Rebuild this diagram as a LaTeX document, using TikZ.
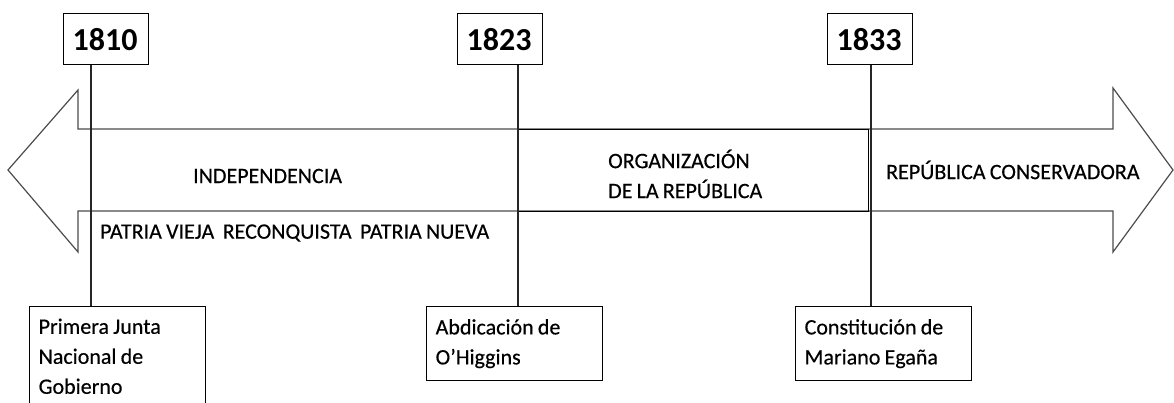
\documentclass[tikz,border=0pt]{standalone}
\usepackage{fontspec}
\setmainfont{Carlito}[WordSpace=0.85]
\newfontfamily\heavy{Carlito}[FakeBold=0.4, WordSpace=0.85]
\begin{document}
\begin{tikzpicture}[x=1pt, y=-1pt,
  year/.style = {shape=rectangle, draw, line width=1.3pt, anchor=north west,
    minimum width=85pt, minimum height=51pt, text width=67pt, inner xsep=9pt,
    align=flush left, font=\fontsize{32}{32}\selectfont\bfseries},
  event/.style = {shape=rectangle, draw, line width=1.3pt, anchor=north west,
    text width=158pt, inner xsep=9pt, inner ysep=12pt, align=flush left,
    font=\fontsize{22}{30}\selectfont\heavy},
  era/.style = {inner sep=0pt, anchor=west, align=left,
    font=\fontsize{22}{30}\selectfont\heavy},
  stem/.style = {line width=2pt, black!85},
  arrow line/.style = {draw=black!70, line width=1.2pt, fill=white, line join=miter}]
  \useasboundingbox (0,0) rectangle (1174,403);
  \draw[arrow line] (8,170) -- (78,90) -- (78,129) -- (1113,129) -- (1113,88)
    -- (1173,170) -- (1113,252) -- (1113,211) -- (78,211) -- (78,252) -- cycle;
  \node[draw, line width=1.3pt, minimum width=350pt, minimum height=82pt,
    anchor=north west] (org) at (518,129) {};
  \node[era] (orgtext) at (608,174) {ORGANIZACIÓN\\DE LA REPÚBLICA};
  \node[era] (indep) at (193,176) {INDEPENDENCIA};
  \node[era] (conserv) at (886,170) {REPÚBLICA\ CONSERVADORA};
  \node[era] (patria) at (100,233) {PATRIA VIEJA\ \ RECONQUISTA\ \ PATRIA NUEVA};
  \node[year] (y1810) at (63,13) {1810};
  \node[year] (y1823) at (457,13) {1823};
  \node[year] (y1833) at (827,13) {1833};
  \node[event] (e1810) at (29,306)
    {Primera Junta\\Nacional de\\Gobierno};
  \node[event, minimum height=74pt] (e1823) at (426,306)
    {Abdicación de\\O’Higgins};
  \node[event, minimum height=74pt] (e1833) at (795,306)
    {Constitución de\\Mariano Egaña};
  \coordinate (l1810) at (91,0);
  \coordinate (l1823) at (518,0);
  \coordinate (l1833) at (871,0);
  \draw[stem] (y1810.south -| l1810) -- (e1810.north -| l1810);
  \draw[stem] (y1823.south -| l1823) -- (e1823.north -| l1823);
  \draw[stem] (y1833.south -| l1833) -- (e1833.north -| l1833);
\end{tikzpicture}
\end{document}
